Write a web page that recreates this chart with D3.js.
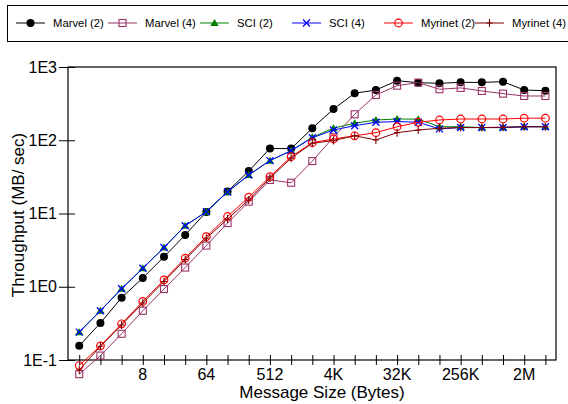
<!DOCTYPE html>
<html><head><meta charset="utf-8">
<script src="https://cdn.jsdelivr.net/npm/d3@7"></script>
<style>body{margin:0;background:#fff;overflow:hidden}svg{display:block}text{font-family:"Liberation Sans",Arial,sans-serif}</style>
</head><body>
<script>
const sizes = d3.range(0, 23).map(k => Math.pow(2, k));
const marvel2 = [0.156,0.32,0.71,1.32,2.56,5.1,10.5,20,38,77,77,146,267,438,485,650,611,599,617,617,630,485,475];
const marvel4 = [0.064,0.115,0.228,0.47,0.93,1.83,3.65,7.4,14.5,28.7,26.3,52,110,226,415,556,611,497,518,471,433,402,402];
const sci2 = [0.24,0.47,0.94,1.79,3.43,6.8,10.6,19.7,33.6,52.7,72,110,146,171,189,195,194,153,153,149,149,153,153];
const sci4 = [0.24,0.47,0.94,1.79,3.43,6.8,10.6,19.7,33.6,52.7,72,108,138,158,176,180,176,143,149,149,149,153,153];
const myri2 = [0.084,0.156,0.312,0.63,1.24,2.46,4.84,9.1,16.7,31.8,59.7,92.7,104,115,127,153,176,189,195,195,195,200,200];
const myri4 = [0.073,0.154,0.3,0.6,1.18,2.35,4.6,8.4,15.3,30.5,57,91,99,115,101,127,138,146,149,149,151,153,153];
const seriesNames = ["Marvel (2)","Marvel (4)","SCI (2)","SCI (4)","Myrinet (2)","Myrinet (4)"];
const xTickLabels = ["8","64","512","4K","32K","256K","2M"];
const xTickValues = [8,64,512,4096,32768,262144,2097152];
const yTickLabels = ["1E3","1E2","1E1","1E0","1E-1"];
const yTickValues = [1000,100,10,1,0.1];

const series = [
  {name: seriesNames[0], values: marvel2, color: "#000000", marker: "dot"},
  {name: seriesNames[1], values: marvel4, color: "#993366", marker: "square"},
  {name: seriesNames[2], values: sci2, color: "#008000", marker: "triangle"},
  {name: seriesNames[3], values: sci4, color: "#0000ff", marker: "x"},
  {name: seriesNames[4], values: myri2, color: "#ff0000", marker: "circle"},
  {name: seriesNames[5], values: myri4, color: "#800000", marker: "plus"}
];

const W = 568, H = 404;
const svg = d3.select("body").append("svg").attr("width", W).attr("height", H);
const L = 68, R = 556, T = 67, B = 360;
const x = d3.scaleLog().base(2).domain([Math.pow(2,-0.53), Math.pow(2,22.5)]).range([L, R]);
const y = d3.scaleLog().domain([0.1, 1000]).range([B, T]);

// frame
svg.append("rect").attr("x", L).attr("y", T).attr("width", R - L).attr("height", B - T)
  .attr("fill", "none").attr("stroke", "#000").attr("stroke-width", 1.2);

// x axis
const xAxis = d3.axisBottom(x).tickValues(sizes).tickSize(0).tickFormat("");
const gx = svg.append("g").attr("transform", `translate(0,${B})`).call(xAxis);
gx.select(".domain").remove();
gx.selectAll(".tick").append("line").attr("y1", -5).attr("y2", 5).attr("stroke", "#000");
xTickValues.forEach((v, i) => {
  svg.append("text").attr("x", x(v)).attr("y", B + 19.5).attr("text-anchor", "middle")
    .attr("font-size", 16).text(xTickLabels[i]);
});
// y axis
const yAxis = d3.axisLeft(y).tickValues(yTickValues).tickSize(0).tickFormat("");
const gy = svg.append("g").attr("transform", `translate(${L},0)`).call(yAxis);
gy.select(".domain").remove();
gy.selectAll(".tick").append("line").attr("x1", -9).attr("x2", 7).attr("stroke", "#000");
yTickValues.forEach((v, i) => {
  svg.append("text").attr("x", 57).attr("y", y(v) + 5.5).attr("text-anchor", "end")
    .attr("font-size", 16).text(yTickLabels[i]);
});

svg.append("text").attr("x", 322).attr("y", 398).attr("text-anchor", "middle")
  .attr("font-size", 17).text("Message Size (Bytes)");
svg.append("text").attr("transform", "translate(24,215) rotate(-90)").attr("text-anchor", "middle")
  .attr("font-size", 17).text("Throughput (MB/ sec)");

function drawMarker(g, type, cx, cy, color) {
  if (type === "dot") g.append("circle").attr("cx", cx).attr("cy", cy).attr("r", 4).attr("fill", color);
  else if (type === "circle") g.append("circle").attr("cx", cx).attr("cy", cy).attr("r", 3.8).attr("fill", "none").attr("stroke", color).attr("stroke-width", 1.2);
  else if (type === "square") g.append("rect").attr("x", cx - 3.5).attr("y", cy - 3.5).attr("width", 7).attr("height", 7).attr("fill", "none").attr("stroke", color).attr("stroke-width", 1.1);
  else if (type === "triangle") g.append("path").attr("d", `M${cx},${cy-4}L${cx+4.2},${cy+3}L${cx-4.2},${cy+3}Z`).attr("fill", color);
  else if (type === "x") g.append("path").attr("d", `M${cx-3.5},${cy-3.5}L${cx+3.5},${cy+3.5}M${cx-3.5},${cy+3.5}L${cx+3.5},${cy-3.5}`).attr("stroke", color).attr("stroke-width", 1.3);
  else if (type === "plus") g.append("path").attr("d", `M${cx},${cy-4}L${cx},${cy+4}M${cx-3},${cy}L${cx+3},${cy}`).attr("stroke", color).attr("stroke-width", 1.1);
}

const line = d3.line().x(d => x(d[0])).y(d => y(d[1]));
series.forEach(s => {
  const g = svg.append("g");
  const pts = sizes.map((sz, i) => [sz, s.values[i]]);
  g.append("path").attr("d", line(pts)).attr("fill", "none").attr("stroke", s.color).attr("stroke-width", 1);
  pts.forEach(p => drawMarker(g, s.marker, x(p[0]), y(p[1]), s.color));
});

// legend
svg.append("rect").attr("x", 7.5).attr("y", 5.5).attr("width", 570).attr("height", 36)
  .attr("fill", "none").attr("stroke", "#000").attr("stroke-width", 1);
const legTextX = [53, 145, 237, 329, 421, 512];
series.forEach((s, i) => {
  const g = svg.append("g");
  const tx = legTextX[i], ly = 23;
  const x0 = i === 5 ? 475 : tx - 37, x1 = tx - 8;
  g.append("line").attr("x1", x0).attr("x2", x1).attr("y1", ly).attr("y2", ly).attr("stroke", s.color).attr("stroke-width", 1);
  drawMarker(g, s.marker, (x0 + x1) / 2, ly, s.color);
  g.append("text").attr("x", tx).attr("y", ly + 4).attr("font-size", 11.3).text(s.name);
});
</script>
</body></html>
